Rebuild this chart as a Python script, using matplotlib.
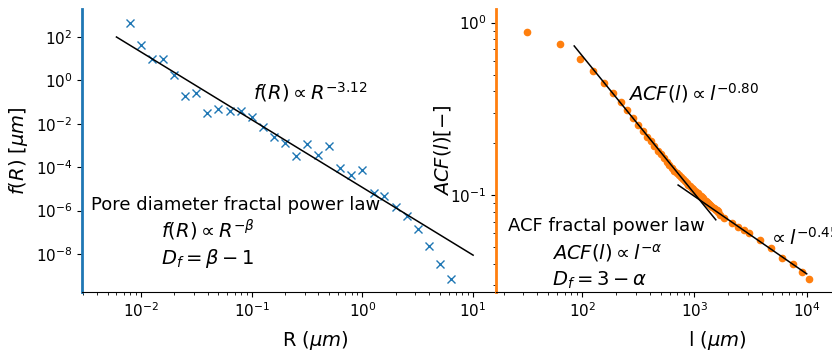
import matplotlib.pyplot as plt
import numpy as np

# === Pore diameter distribution data ===
R_um = [0.0079, 0.01, 0.0126, 0.0158, 0.02, 0.0251, 0.0316, 0.0398, 0.0501, 0.0631,
        0.0794, 0.1, 0.126, 0.158, 0.2, 0.251, 0.316, 0.398, 0.501, 0.631,
        0.794, 1.0, 1.26, 1.58, 2.0, 2.51, 3.16, 3.98, 5.01, 6.31]
f_R = [437, 41, 9.6, 9.3, 1.75, 0.183, 0.26, 0.032, 0.050, 0.039,
       0.037, 0.021, 0.0068, 0.0026, 0.0013, 3.4e-4, 1.15e-3, 3.5e-4, 9.8e-4, 8.8e-5,
       4.5e-5, 7.1e-5, 6.6e-6, 4.7e-6, 1.5e-6, 5.8e-7, 1.35e-7, 2.3e-8, 3.6e-9, 7e-10]

# power law fit f(R) = A * R^-beta
beta = 3.12
A_R = 1.17e-5
R_fit = [0.006, 10]

# === ACF data ===
l_um = [32, 63, 95, 126, 158, 189, 221, 252, 284, 315, 347, 378, 410, 441,
        473, 504, 536, 567, 599, 630, 662, 693, 725, 756, 788, 819, 851, 882,
        914, 945, 977, 1008, 1040, 1071, 1103, 1134, 1166, 1197, 1229, 1260,
        1292, 1323, 1355, 1386, 1418, 1449, 1481, 1512, 1544, 1575, 1607, 1638,
        1694, 1837, 2152, 2465, 2743, 3070, 3831, 4838, 6087, 7598, 9140, 10500]
acf = [0.883, 0.752, 0.616, 0.523, 0.447, 0.391, 0.347, 0.310, 0.280, 0.256,
       0.235, 0.218, 0.205, 0.192,
       0.181, 0.172, 0.163, 0.156, 0.149, 0.1426, 0.1374, 0.1336, 0.130, 0.1265,
       0.1233, 0.1205, 0.1175, 0.115, 0.1125, 0.110, 0.1079, 0.1059, 0.104, 0.1021,
       0.1002, 0.0986, 0.0970, 0.0955, 0.0940, 0.0927, 0.0912, 0.0899, 0.0887,
       0.0875, 0.0863, 0.0853, 0.0841, 0.0832, 0.0821, 0.0813, 0.0802, 0.0794,
       0.0766, 0.0736, 0.0691, 0.0656, 0.0630, 0.0602, 0.0549, 0.0491, 0.0432,
       0.0397, 0.0356, 0.0326]

# two power law fits ACF(l) = A * l^-alpha
alpha1, A1, l_fit1 = 0.80, 25.6, [85, 1550]
alpha2, A2, l_fit2 = 0.45, 2.2, [716, 10000]

W, H = 832, 352

# === Figure ===
fig = plt.figure(figsize=(W / 100, H / 100), dpi=100)
ax1 = fig.add_axes([82 / W, 60 / H, 414 / W, 283 / H])
ax2 = fig.add_axes([496 / W, 60 / H, 336 / W, 283 / H])


def label(x, y, s, size=14):
    # x, y in pixels from the top-left corner
    fig.text(x / W, 1 - y / H, s, fontsize=size, va='center', ha='left')


# --- left panel ---
ax1.plot(R_um, f_R, 'x', color='C0', markersize=5.5)
Rf = np.array(R_fit)
ax1.plot(Rf, A_R * Rf ** (-beta), color='black', linewidth=1.1)
ax1.set_xscale('log')
ax1.set_yscale('log')
ax1.set_xlim(2.93e-3, 16.1)
ax1.set_ylim(1.78e-10, 1950)
ax1.spines['top'].set_visible(False)
ax1.spines['right'].set_visible(False)
ax1.spines['left'].set_color('C0')
ax1.spines['left'].set_linewidth(2)
ax1.tick_params(labelsize=11)
ax1.set_xlabel(r'R ($\mu m$)', fontsize=14)
ax1.set_ylabel(r'$f(R)$ [$\mu m$]', fontsize=14)
ax1.xaxis.set_label_coords(0.563, -0.13)
ax1.yaxis.set_label_coords(-0.126, 0.5)

label(253, 92, r'$f(R) \propto R^{-3.12}$')
label(91, 205, 'Pore diameter fractal power law', 13)
label(161, 230, r'$f(R) \propto R^{-\beta}$')
label(161, 258, r'$D_f = \beta - 1$')

# --- right panel ---
ax2.plot(l_um, acf, 'o', color='C1', markersize=4.5)
lf1 = np.array(l_fit1)
lf2 = np.array(l_fit2)
ax2.plot(lf1, A1 * lf1 ** (-alpha1), color='black', linewidth=1.1)
ax2.plot(lf2, A2 * lf2 ** (-alpha2), color='black', linewidth=1.1)
ax2.set_xscale('log')
ax2.set_yscale('log')
ax2.set_xlim(17.1, 16800)
ax2.set_ylim(0.02735, 1.20)
ax2.spines['top'].set_visible(False)
ax2.spines['right'].set_visible(False)
ax2.spines['left'].set_color('C1')
ax2.spines['left'].set_linewidth(2)
ax2.tick_params(labelsize=11)
ax2.set_xlabel(r'l ($\mu m$)', fontsize=14)
ax2.set_ylabel(r'$ACF(l) [-]$', fontsize=14)
ax2.xaxis.set_label_coords(0.658, -0.13)
ax2.yaxis.set_label_coords(-0.128, 0.5)

label(628, 93, r'$ACF(l) \propto l^{-0.80}$')
label(768, 238, r'$\propto l^{-0.45}$')
label(508, 226, 'ACF fractal power law', 13)
label(552, 253, r'$ACF(l) \propto l^{-\alpha}$')
label(552, 280, r'$D_f = 3 - \alpha$')

plt.savefig('out.png', dpi=100)
plt.close()
